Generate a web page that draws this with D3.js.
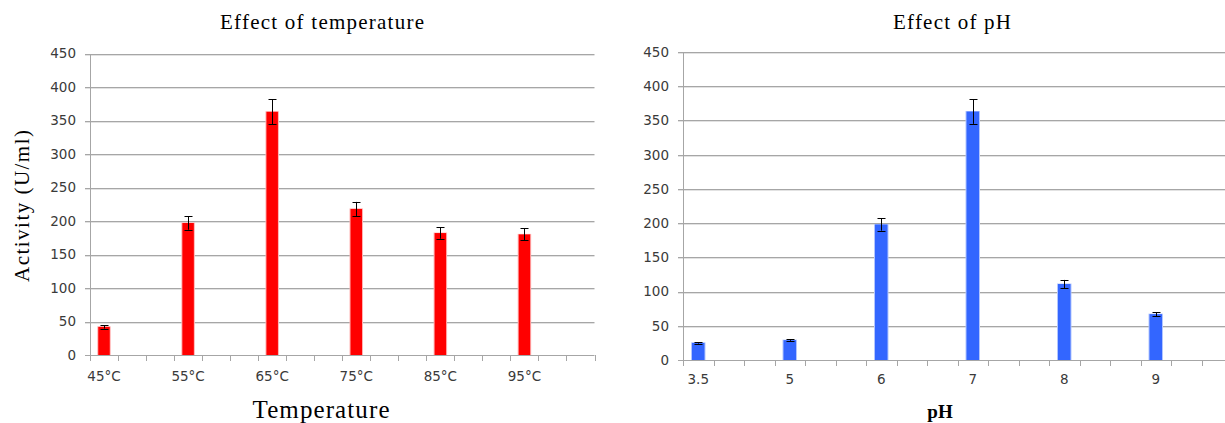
<!DOCTYPE html>
<html><head><meta charset="utf-8">
<script src="https://cdnjs.cloudflare.com/ajax/libs/d3/7.8.5/d3.min.js"></script>
<style>
html,body{margin:0;padding:0;background:#fff;overflow:hidden;}
svg{display:block;}
</style></head>
<body>
<svg id="chart" width="1225" height="423"></svg>
<script>
// ---- data ----
const tempLabels = ["45°C","55°C","65°C","75°C","85°C","95°C"];
const tempValues = [42, 197, 363, 218, 182, 180];
const tempErrors = [2.5, 10, 18.5, 10.5, 8.5, 9];

const phLabels = ["3.5","5","6","7","8","9"];
const phValues = [25, 29, 198, 363, 111, 67];
const phErrors = [1, 1, 9, 18, 6, 3];

const yTicks = [0,50,100,150,200,250,300,350,400,450];
const slotsPerCategory = 3;

const svg = d3.select("#chart");

function drawPanel(opt){
  const g = svg.append("g");
  const nSlots = opt.labels.length * slotsPerCategory;
  const x = d3.scaleBand().domain(d3.range(nSlots)).range([opt.x0, opt.x1]).padding(0);
  const y = d3.scaleLinear().domain([0,450]).range([opt.y0, opt.y1]);
  const bw = x.bandwidth();

  yTicks.forEach(t=>{
    if(t===0) return;
    g.append("line").attr("x1",opt.x0-5).attr("x2",opt.x1)
      .attr("y1",Math.round(y(t))+1.5).attr("y2",Math.round(y(t))+1.5)
      .attr("stroke","#e2e2e2").attr("stroke-width",1);
    g.append("line").attr("x1",opt.x0-5).attr("x2",opt.x1)
      .attr("y1",Math.round(y(t))+0.5).attr("y2",Math.round(y(t))+0.5)
      .attr("stroke","#a6a6a6").attr("stroke-width",1);
  });
  g.append("line").attr("x1",opt.x0+0.5).attr("x2",opt.x0+0.5)
    .attr("y1",Math.round(y(450))).attr("y2",Math.round(y(0))+0.5)
    .attr("stroke","#a6a6a6");
  g.append("line").attr("x1",opt.x0-5).attr("x2",opt.x1)
    .attr("y1",Math.round(y(0))+0.5).attr("y2",Math.round(y(0))+0.5)
    .attr("stroke","#a6a6a6");
  d3.range(nSlots+1).forEach(i=>{
    const xx = Math.round(i<nSlots ? x(i) : opt.x1)+0.5;
    g.append("line").attr("x1",xx).attr("x2",xx)
      .attr("y1",Math.round(y(0))).attr("y2",Math.round(y(0))+6)
      .attr("stroke","#a6a6a6");
  });
  g.selectAll("text.yt").data(yTicks).enter().append("text")
    .attr("x",opt.x0-14).attr("y",d=>y(d)).attr("dy","0.36em")
    .attr("text-anchor","end")
    .style("font-family","'DejaVu Sans',Verdana,sans-serif").style("font-size","13.5px")
    .attr("fill","#3a3a3a").text(d=>d);

  const barW = bw*0.41;
  const idx = opt.labels.map((d,i)=>i*slotsPerCategory);
  g.selectAll("rect.halo").data(opt.values).enter().append("rect")
    .attr("x",(d,i)=>x(idx[i])+(bw-barW)/2-1).attr("width",barW+2)
    .attr("y",d=>y(d)-0.5).attr("height",d=>y(0)-y(d)+0.5)
    .attr("fill",opt.halo);
  g.selectAll("rect.bar").data(opt.values).enter().append("rect")
    .attr("x",(d,i)=>x(idx[i])+(bw-barW)/2).attr("width",barW)
    .attr("y",d=>y(d)).attr("height",d=>y(0)-y(d))
    .attr("fill",opt.color);
  opt.values.forEach((v,i)=>{
    const cx = Math.round(x(idx[i])+bw/2)+0.5;
    const e = opt.errors[i];
    g.append("line").attr("x1",cx).attr("x2",cx).attr("y1",y(v+e)).attr("y2",y(v-e))
      .attr("stroke","#000").attr("stroke-width",1);
    [v+e,v-e].forEach(yy=>{
      g.append("line").attr("x1",cx-4).attr("x2",cx+4)
        .attr("y1",Math.round(y(yy))+0.5).attr("y2",Math.round(y(yy))+0.5)
        .attr("stroke","#000").attr("stroke-width",1);
    });
  });
  g.selectAll("text.xl").data(opt.labels).enter().append("text")
    .attr("x",(d,i)=>x(idx[i])+bw/2).attr("y",opt.labelY)
    .attr("text-anchor","middle")
    .style("font-family","'DejaVu Sans',Verdana,sans-serif").style("font-size","13.5px")
    .attr("fill","#3a3a3a").text(d=>d);
  g.append("text").attr("x",opt.titleX).attr("y",29).attr("text-anchor","middle")
    .style("font-family","'Liberation Serif','Times New Roman',serif").style("font-size","21px")
    .attr("textLength",opt.titleLen).attr("lengthAdjust","spacing")
    .attr("fill","#000").text(opt.title);
  return {x,y,g};
}

drawPanel({labels:tempLabels, values:tempValues, errors:tempErrors,
  x0:90, x1:594.5, y0:355, y1:53.5, color:"#ff0000", halo:"#ffb3b3",
  labelY:381, title:"Effect of temperature", titleX:322, titleLen:204});

drawPanel({labels:phLabels, values:phValues, errors:phErrors,
  x0:683, x1:683+18*30.5, y0:360, y1:52, color:"#3366ff", halo:"#b3c6ff",
  labelY:384, title:"Effect of pH", titleX:952, titleLen:118});

svg.append("text").attr("x",321).attr("y",418).attr("text-anchor","middle")
  .style("font-family","'Liberation Serif','Times New Roman',serif").style("font-size","25px")
  .attr("textLength",137).attr("lengthAdjust","spacing")
  .text("Temperature");
svg.append("text").attr("x",940).attr("y",418).attr("text-anchor","middle")
  .style("font-family","'Liberation Serif','Times New Roman',serif").style("font-size","19px")
  .style("font-weight","bold").text("pH");
svg.append("text").attr("transform","translate(29,206) rotate(-90)").attr("text-anchor","middle")
  .style("font-family","'Liberation Serif','Times New Roman',serif").style("font-size","21px")
  .attr("textLength",152).attr("lengthAdjust","spacing")
  .text("Activity  (U/ml)");
</script>
</body></html>
